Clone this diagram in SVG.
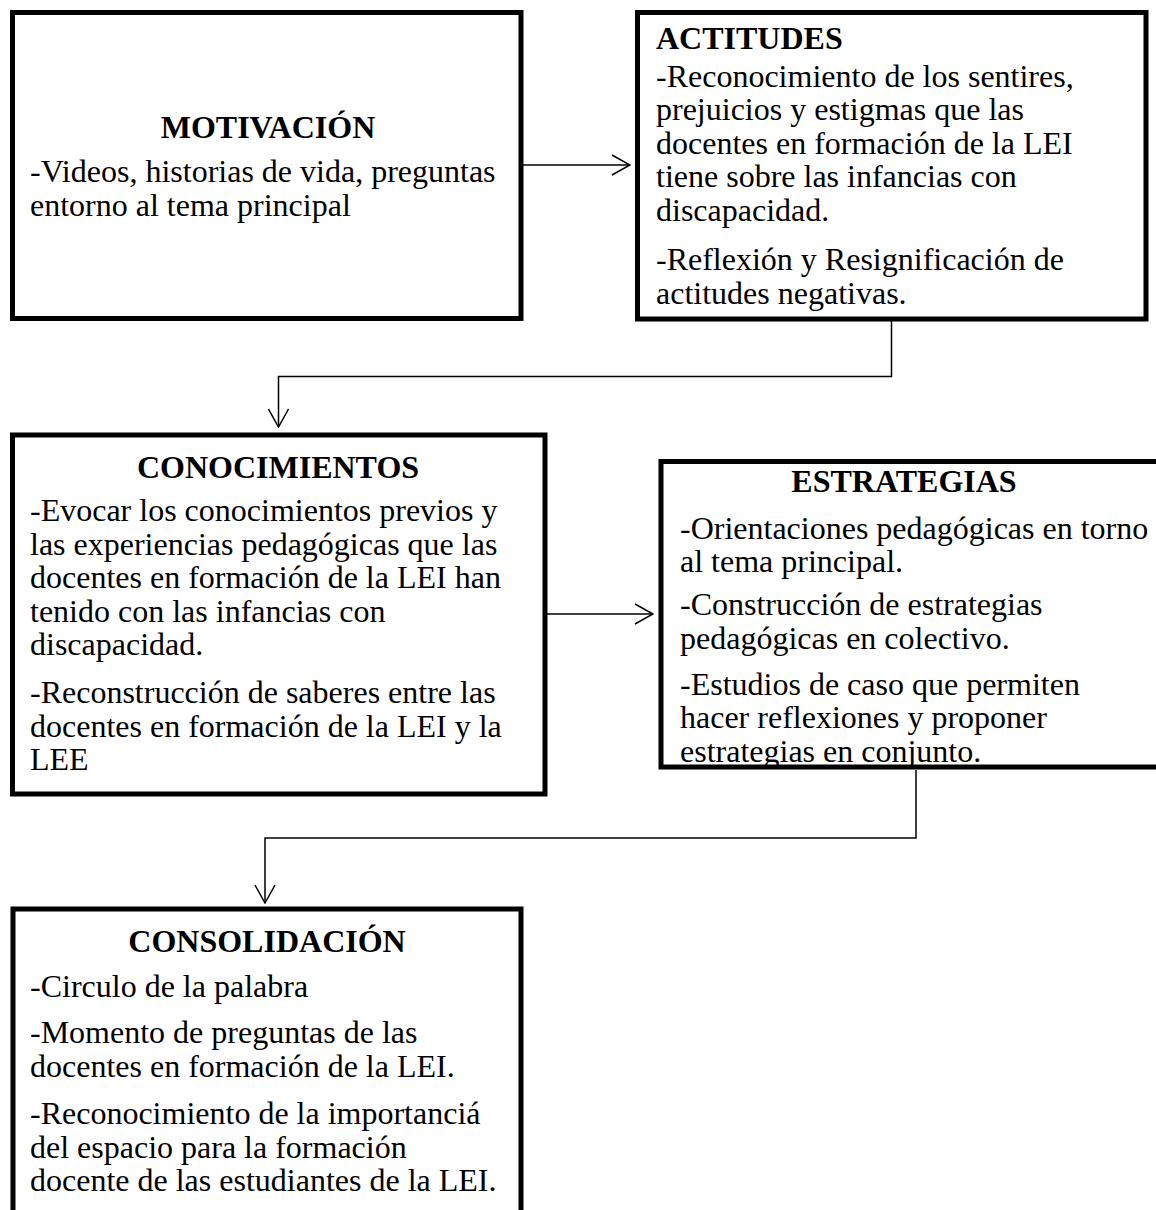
<svg xmlns="http://www.w3.org/2000/svg" width="1156" height="1210" viewBox="0 0 1156 1210">
<style>
.box{fill:#fff;stroke:#000;stroke-width:5}
.t{font-family:"Liberation Serif","Times New Roman",serif;font-size:32px;fill:#000}
.h{font-weight:bold}
.c{text-anchor:middle}
.ln{fill:none;stroke:#000;stroke-width:1.5}
</style>
<defs>
<marker id="arr" viewBox="0 0 20 22" refX="19" refY="11" markerWidth="20" markerHeight="22" orient="auto" markerUnits="userSpaceOnUse">
<path d="M1,1 L19,11 L1,21" fill="none" stroke="#000" stroke-width="1.5"/>
</marker>
</defs>
<rect width="1156" height="1210" fill="#fff"/>
<g id="connectors">
<path class="ln" d="M523,165 H630" marker-end="url(#arr)"/>
<path class="ln" d="M891.5,321 V376.5 H278.5 V427" marker-end="url(#arr)"/>
<path class="ln" d="M547,614 H653" marker-end="url(#arr)"/>
<path class="ln" d="M916,770 V838 H265 V903" marker-end="url(#arr)"/>
</g>
<g id="motivacion">
<rect class="box" x="12.5" y="12.5" width="508.5" height="306"/>
<text class="t h c" x="268" y="138">MOTIVACIÓN</text>
<text class="t" x="30" y="182">-Videos, historias de vida, preguntas</text>
<text class="t" x="30" y="216">entorno al tema principal</text>
</g>
<g id="actitudes">
<rect class="box" x="637.5" y="12.5" width="508.5" height="306.5"/>
<text class="t h" x="656" y="49">ACTITUDES</text>
<text class="t" x="656" y="87">-Reconocimiento de los sentires,</text>
<text class="t" x="656" y="120">prejuicios y estigmas que las</text>
<text class="t" x="656" y="154">docentes en formación de la LEI</text>
<text class="t" x="656" y="187">tiene sobre las infancias con</text>
<text class="t" x="656" y="221">discapacidad.</text>
<text class="t" x="656" y="270">-Reflexión y Resignificación de</text>
<text class="t" x="656" y="304">actitudes negativas.</text>
</g>
<g id="conocimientos">
<rect class="box" x="12.5" y="435" width="532.5" height="359"/>
<text class="t h c" x="278" y="478">CONOCIMIENTOS</text>
<text class="t" x="30" y="521">-Evocar los conocimientos previos y</text>
<text class="t" x="30" y="555">las experiencias pedagógicas que las</text>
<text class="t" x="30" y="588">docentes en formación de la LEI han</text>
<text class="t" x="30" y="622">tenido con las infancias con</text>
<text class="t" x="30" y="655">discapacidad.</text>
<text class="t" x="30" y="703">-Reconstrucción de saberes entre las</text>
<text class="t" x="30" y="737">docentes en formación de la LEI y la</text>
<text class="t" x="30" y="770">LEE</text>
</g>
<g id="estrategias">
<rect class="box" x="661" y="461.5" width="510" height="305.5"/>
<text class="t h c" x="904" y="492">ESTRATEGIAS</text>
<text class="t" x="680" y="539">-Orientaciones pedagógicas en torno</text>
<text class="t" x="680" y="572">al tema principal.</text>
<text class="t" x="680" y="615">-Construcción de estrategias</text>
<text class="t" x="680" y="649">pedagógicas en colectivo.</text>
<text class="t" x="680" y="695">-Estudios de caso que permiten</text>
<text class="t" x="680" y="728">hacer reflexiones y proponer</text>
<text class="t" x="680" y="762">estrategias en conjunto.</text>
</g>
<g id="consolidacion">
<rect class="box" x="13" y="909" width="508" height="320"/>
<text class="t h c" x="267" y="952">CONSOLIDACIÓN</text>
<text class="t" x="30" y="997">-Circulo de la palabra</text>
<text class="t" x="30" y="1043">-Momento de preguntas de las</text>
<text class="t" x="30" y="1077">docentes en formación de la LEI.</text>
<text class="t" x="30" y="1124">-Reconocimiento de la importanciá</text>
<text class="t" x="30" y="1158">del espacio para la formación</text>
<text class="t" x="30" y="1191">docente de las estudiantes de la LEI.</text>
</g>
</svg>
